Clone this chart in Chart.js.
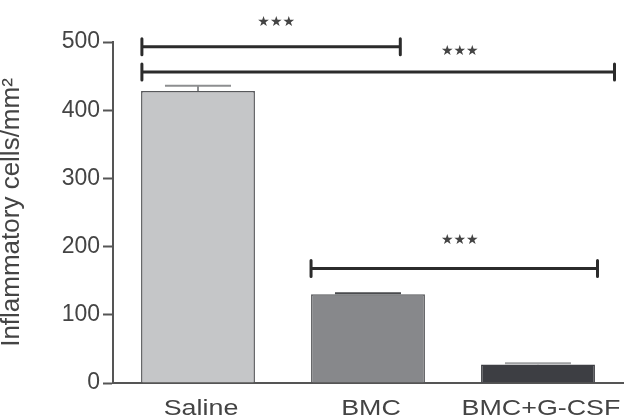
<!DOCTYPE html>
<html>
<head>
<meta charset="utf-8">
<script src="https://cdn.jsdelivr.net/npm/chart.js@4"></script>
<style>
	html, body { margin: 0; padding: 0; background: #fff; }
	#wrap { width: 632px; height: 418px; }
</style>
</head>
<body>
<div id="wrap"><canvas id="barChart" width="632" height="418"></canvas></div>
<script>
// data
var categories = ['Saline', 'BMC', 'BMC+G-CSF'];
var means = [428, 130, 27];
var errors = [8, 1.5, 2];
var yTicks = [0, 100, 200, 300, 400, 500];

// significance brackets (category index units, value units)
var bracketFrom = [-0.33, -0.33, 0.665];
var bracketTo = [1.19, 2.45, 2.35];
var bracketY = [493, 456, 168];
var starX = [0.46, 1.54, 1.54];
var starY = [529, 486, 209];
var starText = ['***', '***', '***'];

var fillColors = ['#c5c6c8', '#87888b', '#3d3e43'];
var edgeColors = ['#58595c', '#58595c', '#3d3e43'];
var errColors = ['#8d8e90', '#4a4b4e', '#a0a1a3'];

var extras = {
	id: 'extras',
	afterDatasetsDraw: function(chart) {
		var ctx = chart.ctx;
		var x = chart.scales.x;
		var y = chart.scales.y;
		var meta = chart.getDatasetMeta(0);

		// error bars (upper only)
		ctx.save();
		meta.data.forEach(function(bar, i) {
			var top = y.getPixelForValue(means[i] + errors[i]);
			var base = y.getPixelForValue(means[i]);
			var half = bar.width * 0.29;
			ctx.strokeStyle = errColors[i];
			ctx.lineWidth = 2;
			ctx.beginPath();
			ctx.moveTo(bar.x, base);
			ctx.lineTo(bar.x, top);
			ctx.moveTo(bar.x - half, top);
			ctx.lineTo(bar.x + half, top);
			ctx.stroke();
		});

		// brackets
		ctx.strokeStyle = '#2b2b2b';
		ctx.lineWidth = 3;
		ctx.lineCap = 'round';
		for (var i = 0; i < bracketY.length; i++) {
			var x1 = x.getPixelForValue(bracketFrom[i]);
			var x2 = x.getPixelForValue(bracketTo[i]);
			var yy = y.getPixelForValue(bracketY[i]);
			ctx.beginPath();
			ctx.moveTo(x1, yy);
			ctx.lineTo(x2, yy);
			ctx.moveTo(x1, yy - 8);
			ctx.lineTo(x1, yy + 8);
			ctx.moveTo(x2, yy - 8);
			ctx.lineTo(x2, yy + 8);
			ctx.stroke();

			ctx.fillStyle = '#444';
			ctx.font = '14px "DejaVu Sans"';
			ctx.textAlign = 'center';
			ctx.textBaseline = 'middle';
			ctx.fillText(starText[i].replace(/\*/g, '\u2605'), x.getPixelForValue(starX[i]), y.getPixelForValue(starY[i]));
		}
		ctx.restore();

		// category labels, stretched wide like the original
		ctx.save();
		ctx.fillStyle = '#444';
		ctx.font = '22px "Liberation Sans"';
		ctx.textAlign = 'center';
		ctx.textBaseline = 'alphabetic';
		ctx.scale(1.22, 1);
		categories.forEach(function(label, i) {
			ctx.fillText(label, (x.getPixelForValue(i) + 3) / 1.22, 415);
		});
		ctx.restore();
	}
};

var ctx = document.getElementById('barChart').getContext('2d');
new Chart(ctx, {
	type: 'bar',
	data: {
		labels: categories,
		datasets: [{
			data: means,
			backgroundColor: fillColors,
			borderColor: edgeColors,
			borderWidth: 1.5,
			borderSkipped: 'bottom',
			barPercentage: 0.67,
			categoryPercentage: 1.0
		}]
	},
	options: {
		responsive: false,
		animation: false,
		layout: {
			padding: { top: 42, right: 9, left: 0, bottom: 0 }
		},
		plugins: {
			legend: { display: false },
			tooltip: { enabled: false },
			title: { display: false }
		},
		scales: {
			x: {
				grid: { display: false, drawTicks: false },
				border: { color: '#555', width: 2 },
				ticks: { display: false },
				afterFit: function(scale) { scale.height = 35; }
			},
			y: {
				min: 0,
				max: 500,
				afterBuildTicks: function(scale) {
					scale.ticks = yTicks.map(function(v) { return { value: v }; });
				},
				grid: {
					drawOnChartArea: false,
					drawTicks: true,
					tickLength: 10,
					tickWidth: 2,
					color: '#555'
				},
				border: { color: '#555', width: 2 },
				ticks: {
					color: '#444',
					padding: 3,
					font: { family: 'Liberation Sans', size: 23 }
				},
				title: {
					display: true,
					text: 'Inflammatory cells/mm\u00b2',
					color: '#444',
					padding: { top: -4, bottom: 0 },
					font: { family: 'Liberation Sans', size: 26 }
				},
				afterFit: function(scale) { scale.width = 113; }
			}
		}
	},
	plugins: [extras]
});
</script>
</body>
</html>
